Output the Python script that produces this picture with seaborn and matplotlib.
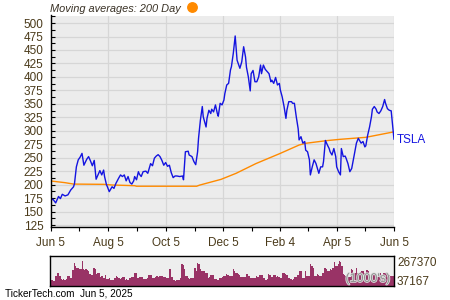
import matplotlib
matplotlib.use("Agg")
import matplotlib.pyplot as plt
import matplotlib.patheffects as pe
from matplotlib.ticker import MultipleLocator
from matplotlib.transforms import blended_transform_factory
import numpy as np
import pandas as pd
import seaborn as sns

# ---------------- data ----------------
ticker = "TSLA"
title_text = "Moving averages: 200 Day"
footer_text = "TickerTech.com  Jun 5, 2025"

price_dates = [
    "2024-06-05","2024-06-07","2024-06-10","2024-06-13","2024-06-15","2024-06-17","2024-06-20","2024-06-23","2024-06-26","2024-06-29",
    "2024-06-30","2024-07-02","2024-07-04","2024-07-06","2024-07-08","2024-07-10","2024-07-13","2024-07-15","2024-07-17","2024-07-19",
    "2024-07-21","2024-07-23","2024-07-25","2024-07-27","2024-07-29","2024-07-31","2024-08-01","2024-08-03","2024-08-04","2024-08-06",
    "2024-08-09","2024-08-11","2024-08-13","2024-08-16","2024-08-18","2024-08-20","2024-08-22","2024-08-24","2024-08-26","2024-08-28",
    "2024-08-30","2024-09-01","2024-09-02","2024-09-04","2024-09-06","2024-09-07","2024-09-09","2024-09-11","2024-09-14","2024-09-16",
    "2024-09-19","2024-09-21","2024-09-23","2024-09-25","2024-09-27","2024-09-29","2024-10-01","2024-10-03","2024-10-05","2024-10-07",
    "2024-10-09","2024-10-11","2024-10-13","2024-10-15","2024-10-17","2024-10-20","2024-10-23","2024-10-24","2024-10-26","2024-10-29",
    "2024-10-30","2024-11-02","2024-11-04","2024-11-06","2024-11-08","2024-11-09","2024-11-11","2024-11-13","2024-11-14","2024-11-17",
    "2024-11-18","2024-11-20","2024-11-22","2024-11-23","2024-11-25","2024-11-27","2024-11-29","2024-11-30","2024-12-02","2024-12-04",
    "2024-12-06","2024-12-07","2024-12-09","2024-12-11","2024-12-13","2024-12-14","2024-12-16","2024-12-18","2024-12-20","2024-12-21",
    "2024-12-23","2024-12-25","2024-12-27","2024-12-29","2024-12-30","2025-01-01","2025-01-03","2025-01-04","2025-01-06","2025-01-08",
    "2025-01-10","2025-01-12","2025-01-14","2025-01-15","2025-01-17","2025-01-19","2025-01-21","2025-01-23","2025-01-25","2025-01-26",
    "2025-01-28","2025-01-30","2025-02-01","2025-02-03","2025-02-04","2025-02-06","2025-02-08","2025-02-10","2025-02-11","2025-02-13",
    "2025-02-16","2025-02-17","2025-02-19","2025-02-21","2025-02-23","2025-02-24","2025-02-26","2025-02-28","2025-03-02","2025-03-03",
    "2025-03-05","2025-03-07","2025-03-08","2025-03-10","2025-03-12","2025-03-14","2025-03-15","2025-03-17","2025-03-19","2025-03-21",
    "2025-03-22","2025-03-24","2025-03-26","2025-03-28","2025-03-29","2025-03-31","2025-04-02","2025-04-04","2025-04-05","2025-04-07",
    "2025-04-09","2025-04-10","2025-04-12","2025-04-14","2025-04-15","2025-04-17","2025-04-19","2025-04-21","2025-04-22","2025-04-24",
    "2025-04-26","2025-04-28","2025-04-29","2025-05-01","2025-05-03","2025-05-05","2025-05-06","2025-05-08","2025-05-10","2025-05-12",
    "2025-05-13","2025-05-15","2025-05-17","2025-05-18","2025-05-20","2025-05-22","2025-05-24","2025-05-26","2025-05-27","2025-05-29",
    "2025-05-31","2025-06-02","2025-06-03","2025-06-05",
]
price_values = [
    171,173,166,178,174,182,179,181,190,196,
    202,233,246,251,258,236,247,252,244,235,
    245,210,218,226,218,227,215,200,196,187,
    196,193,202,212,218,215,218,207,215,204,
    201,207,215,209,224,219.5,215,224,225,221,
    239,235,249,253,255.6,252,245,236,241,234,
    236,222,213,216,216,215,216,209,261,262,
    255,252,243,237,261,286,320,345,326,307,
    323,338,332,340,335,348,332,327,351,348,
    357,369,385,388,413,419,444,476,431,426,
    416,428,456,437,418,400,374,406,412,391,
    391,400,422,406,422,414,410,406,391,394,
    388,399,385,388,376,363,345,323,338,354,
    354,351,351,326,304,283,289,277,280,264,
    261,246,218,233,246,239,233,221,233,233,
    243,282,274,267,261,255,267,252,233,224,
    218,267,252,253,249,239,224,230,239,258,
    277,286,283,277,280,270,272,292,307,326,
    340,345,340,335,332,337,345,358,351,341,
    338,337,320,284,
]

ma_dates = ["2024-06-05","2024-06-20","2024-06-29","2024-07-31","2024-08-09","2024-09-02","2024-09-04",
            "2024-11-07","2024-11-10","2024-12-03","2024-12-19","2025-01-09","2025-02-04","2025-02-24",
            "2025-03-03","2025-03-25","2025-04-08","2025-05-06","2025-06-05"]
ma_values = [206.7,203.6,201.0,200.5,199.3,198.0,197.0,
             197.0,199.0,209.8,221.0,239.0,258.0,273.5,
             276.7,281.6,284.0,287.8,298.0]

# daily volume in thousands (one per trading day)
volume_k = [
    78,72,58,54,116,156,150,116,80,72,76,70,78,116,110,96,92,184,275,240,
    215,210,205,196,295,196,190,200,184,170,144,128,124,215,200,136,156,150,104,110,
    88,90,128,84,80,86,64,66,62,88,116,108,88,84,90,104,100,72,74,70,
    88,86,104,100,156,150,96,92,98,104,100,76,74,78,96,128,124,130,96,94,
    98,112,108,110,112,116,108,
    104,88,86,90,196,104,100,64,60,66,62,64,88,263,250,196,116,110,88,84,
    90,96,92,215,176,275,263,196,176,170,180,156,150,96,100,128,124,130,76,78,
    64,66,96,92,98,116,112,136,130,116,120,112,196,180,156,150,136,130,104,108,
    104,100,144,140,112,96,94,88,86,90,112,108,128,124,126,96,92,72,76,136,
    132,104,100,128,124,104,110,106,
    96,92,156,150,136,130,96,94,76,72,78,104,100,128,124,176,170,96,92,176,
    116,112,118,255,240,215,116,110,136,130,116,112,156,150,215,205,176,170,196,190,
    215,287,235,230,263,295,280,235,136,130,116,112,104,108,196,190,156,150,215,156,
    150,160,176,170,156,150,184,180,128,124,156,150,128,124,130,156,150,116,112,156,
    150,160,136,130,116,112,118,
]
vol_top_label = "267370"
vol_bottom_label = "37167"
vol_unit_label = "(1000's)"

assert len(price_dates) == len(price_values)
assert len(ma_dates) == len(ma_values)

# ---------------- styling ----------------
blue = "#1414e0"
orange = "#ff8a00"
vol_color = "#993366"
bg = "#ececec"
grid_c = "#d6d6d6"
label_c = "#4a3a1a"
font = "Liberation Sans"

sns.set_theme(style="white")
plt.rcParams["font.family"] = [font, "DejaVu Sans"]

price_df = pd.DataFrame({"date": pd.to_datetime(price_dates), "price": price_values})
ma_df = pd.DataFrame({"date": pd.to_datetime(ma_dates), "ma": ma_values})
vol_df = pd.DataFrame({"day": np.arange(len(volume_k)), "vol": np.array(volume_k) * 1000})

x0, x1 = pd.Timestamp("2024-06-05"), pd.Timestamp("2025-06-05")

fig = plt.figure(figsize=(4.5, 3.0), dpi=100)
fig.patch.set_facecolor("white")

ax = fig.add_axes([51/450, 1-227/300, 343/450, (227-15.5)/300])
ax.set_facecolor(bg)

sns.lineplot(data=ma_df, x="date", y="ma", ax=ax, color=orange, lw=1.0, sort=False, estimator=None)
sns.lineplot(data=price_df, x="date", y="price", ax=ax, color=blue, lw=1.0, sort=False, estimator=None)

ax.set_xlim(x0, x1)
ax.set_ylim(121.3, 514)
ax.set_xlabel("")
ax.set_ylabel("")

major_dates = pd.to_datetime(["2024-06-05","2024-08-05","2024-10-05","2024-12-05","2025-02-04","2025-04-05","2025-06-05"])
minor_dates = pd.to_datetime(["2024-07-05","2024-09-05","2024-11-05","2025-01-05","2025-03-05","2025-05-05"])
major_labels = ["Jun 5","Aug 5","Oct 5","Dec 5","Feb 4","Apr 5","Jun 5"]
ax.set_xticks(major_dates)
ax.set_xticklabels(major_labels)
ax.set_xticks(minor_dates, minor=True)

ax.set_yticks(np.arange(125, 501, 25))
ax.yaxis.set_minor_locator(MultipleLocator(12.5))

ax.grid(True, which="major", color=grid_c, lw=0.9)
ax.set_axisbelow(True)

ax.tick_params(axis="y", which="both", direction="in", length=3, width=0.8, color="black",
               labelsize=8.5, labelcolor=label_c, pad=5.5, left=True)
ax.tick_params(axis="x", which="both", direction="out", length=3, width=0.8, color="black",
               labelsize=8.5, labelcolor=label_c, pad=4, bottom=True)

for s in ["top", "right"]:
    ax.spines[s].set_visible(False)
for s in ["left", "bottom"]:
    ax.spines[s].set_color("black")
    ax.spines[s].set_linewidth(1.0)

# ticker label at the right of last price
trans = blended_transform_factory(ax.transAxes, ax.transData)
ax.text(1.008, price_values[-1] - 2, ticker, transform=trans, color=blue, fontsize=8.5,
        va="center", ha="left", clip_on=False)

# title + orange legend dot
fig.text(50/450, 1-12.5/300, title_text, fontsize=7.9, style="italic", color="#3a3226",
         ha="left", va="baseline")
ax.plot([191.7/450], [1-7/300], marker="o", markersize=6.8, color=orange,
        transform=fig.transFigure, clip_on=False, linestyle="none")

# ---------------- volume panel ----------------
vax = fig.add_axes([50/450, 1-285.5/300, 344/450, (285.5-256)/300])
vax.set_facecolor("#eeeeee")
vax.bar(vol_df["day"], vol_df["vol"], width=1.0, color=vol_color, linewidth=0, align="center")
vax.set_xlim(-0.5, len(volume_k) - 0.5)
vax.set_ylim(0, 356000)
vax.set_xticks([])
vax.set_yticks([])
for s in vax.spines.values():
    s.set_color("black")
    s.set_linewidth(1.0)

fig.text(397/450, 1-263/300, vol_top_label, fontsize=8.5, color=label_c, ha="left", va="center")
fig.text(397/450, 1-282/300, vol_bottom_label, fontsize=8.5, color=label_c, ha="left", va="center")
vax.text(0.99, 0.02, vol_unit_label, transform=vax.transAxes, fontsize=9, color="#8c8c8c",
         ha="right", va="bottom",
         path_effects=[pe.withStroke(linewidth=1.2, foreground="#e0e0e0")])

fig.text(5/450, 1-297/300, footer_text, fontsize=7.2, color="black", ha="left", va="baseline")

fig.savefig("out.png", dpi=100, facecolor="white")
